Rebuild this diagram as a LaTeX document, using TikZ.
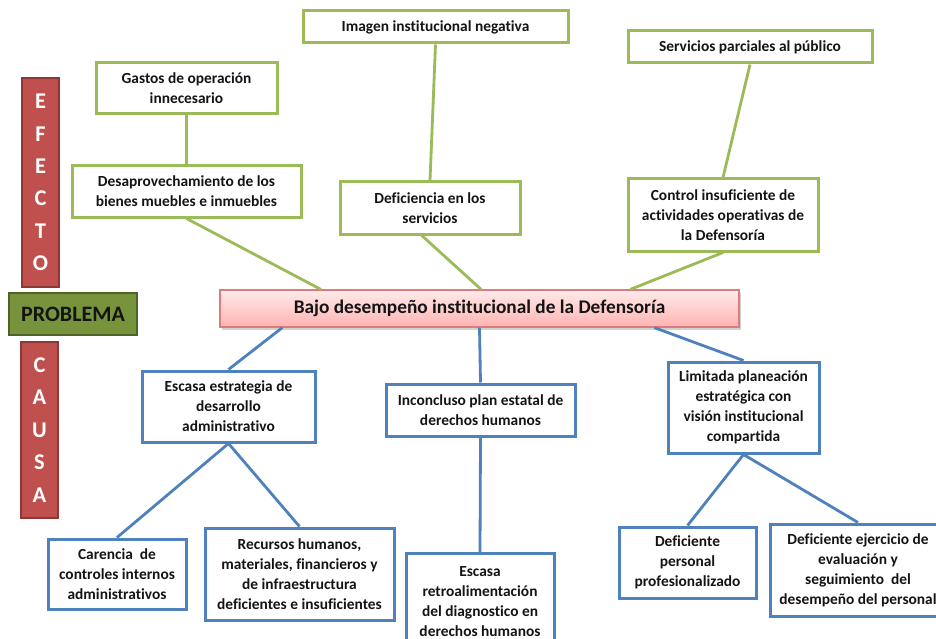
\documentclass[tikz,border=0pt]{standalone}
\usepackage{fontspec}
\setmainfont{Carlito}[Ligatures=NoCommon]
\usetikzlibrary{calc,shadows}
\definecolor{grn}{HTML}{9BBB59}
\definecolor{blu}{HTML}{4F81BD}
\definecolor{redbar}{HTML}{C0504D}
\definecolor{redbord}{HTML}{8C3836}
\definecolor{olive}{HTML}{77933C}
\definecolor{olivebord}{HTML}{4F6228}
\definecolor{pinkbord}{HTML}{E07B7B}
\definecolor{txt}{HTML}{141414}
\begin{document}
\begin{tikzpicture}[x=1pt,y=-1pt,
  base/.style={rectangle, inner sep=2pt, align=center, text=txt,
    font=\fontsize{15.4}{20}\selectfont\bfseries, fill=white},
  effbox/.style={base, draw=grn, line width=3pt},
  causebox/.style={base, draw=blu, line width=3pt},
  glink/.style={draw=grn, line width=2.8pt},
  blink/.style={draw=blu, line width=2.8pt},
  sidebar/.style={rectangle, fill=redbar, draw=redbord, line width=1.2pt,
    text=white, align=center, inner sep=0pt,
    font=\fontsize{22.5}{32.4}\selectfont\bfseries},
]
\clip (0,0) rectangle (936,639);
\fill[white] (0,0) rectangle (936,639);

% side labels
\node[sidebar, minimum width=37pt, minimum height=209pt] (efecto) at (40.5,182.5) {E\\F\\E\\C\\T\\O};
\node[rectangle, fill=olive, draw=olivebord, line width=1.2pt, minimum width=128pt, minimum height=42pt,
  inner sep=0pt, text=txt, font=\fontsize{22}{26}\selectfont\bfseries] (problema) at (73,314) {PROBLEMA};
\node[sidebar, minimum width=37pt, minimum height=176pt] (causa) at (39.5,430) {C\\A\\U\\S\\A};

% central problem
\node[rectangle, draw=pinkbord, line width=1.2pt, top color=red!8, bottom color=red!30,
  drop shadow={shadow xshift=1.5pt, shadow yshift=-2.5pt, fill=black!35},
  minimum width=519pt, minimum height=37pt, inner sep=0pt, text=txt,
  font=\fontsize{19.3}{22}\selectfont\bfseries] (bajo) at (479.5,308.5) {Bajo desempeño institucional de la Defensoría};

% effects
\node[effbox, minimum width=181pt, minimum height=51pt] (gastos) at (186.5,88.5) {Gastos de operación\\innecesario};
\node[effbox, minimum width=229pt, minimum height=51pt] (desap) at (186.5,191.5) {Desaprovechamiento de los\\bienes muebles e inmuebles};
\node[effbox, minimum width=265pt, minimum height=32pt] (imagen) at (435.5,27) {Imagen institucional negativa};
\node[effbox, minimum width=180pt, minimum height=52pt] (defic) at (430,208) {Deficiencia en los\\servicios};
\node[effbox, minimum width=244pt, minimum height=32pt] (servicios) at (750,47) {Servicios parciales al público};
\node[effbox, minimum width=190pt, minimum height=72pt] (control) at (723,215) {Control insuficiente de\\actividades operativas de\\la Defensoría};

% causes
\node[causebox, minimum width=173pt, minimum height=71pt] (escasa) at (228.5,406.5) {Escasa estrategia de\\desarrollo\\administrativo};
\node[causebox, minimum width=189pt, minimum height=52pt] (incon) at (480.5,410) {Inconcluso plan estatal de\\derechos humanos};
\node[causebox, minimum width=151pt, minimum height=91pt] (limitada) at (743.5,407.5) {Limitada planeación\\estratégica con\\visión institucional\\compartida};
\node[causebox, minimum width=138pt, minimum height=70pt] (carencia) at (117,574) {Carencia\ \ de\\controles internos\\administrativos};
\node[causebox, minimum width=189pt, minimum height=92pt] (recursos) at (299.5,574) {Recursos humanos,\\materiales, financieros y\\de infraestructura\\deficientes e insuficientes};
\node[causebox, minimum width=148pt, minimum height=96pt, anchor=north] (retro) at (480,552) {Escasa\\retroalimentación\\del diagnostico en\\derechos humanos};
\node[causebox, minimum width=137pt, minimum height=71pt] (defpers) at (687.5,562.5) {Deficiente\\personal\\profesionalizado};
\node[causebox, minimum width=176pt, minimum height=92pt] (defejer) at (858,570) {Deficiente ejercicio de\\evaluación y\\seguimiento\ \ del\\desempeño del personal};

% effect connectors
\path[glink] (gastos.south) -- (desap.north);
\path[glink] (desap.south) -- ($(bajo.north west)!0.195!(bajo.north east)$);
\path[glink] (imagen.south) -- (defic.north);
\path[glink] ($(defic.south west)!0.455!(defic.south east)$) -- ($(bajo.north west)!0.503!(bajo.north east)$);
\path[glink] (servicios.south) -- (control.north);
\path[glink] (control.south) -- ($(bajo.north west)!0.79!(bajo.north east)$);

% cause connectors
\path[blink] ($(bajo.south west)!0.121!(bajo.south east)$) -- (escasa.north);
\path[blink] (bajo.south) -- (incon.north);
\path[blink] ($(bajo.south west)!0.836!(bajo.south east)$) -- (limitada.north);
\path[blink] (escasa.south) -- (carencia.north);
\path[blink] (escasa.south) -- (recursos.north);
\path[blink] (incon.south) -- (retro.north);
\path[blink] (limitada.south) -- (defpers.north);
\path[blink] (limitada.south) -- (defejer.north);
\end{tikzpicture}
\end{document}
